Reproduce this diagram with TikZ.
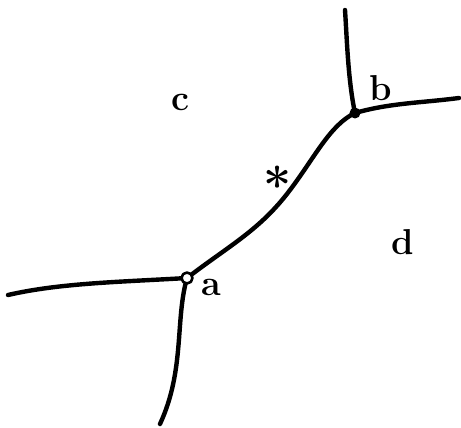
\documentclass[tikz,border=0pt]{standalone}
\usepackage{fontspec}
\begin{document}
\begin{tikzpicture}[x=1pt,y=-1pt,line cap=round,line join=round,
  edge/.style={line width=4.4pt,black},
  lbl/.style={font=\fontsize{36}{36}\selectfont\bfseries}]
\useasboundingbox (0,0) rectangle (461,428);
\coordinate (a) at (187,278);
\coordinate (b) at (355,113);
\coordinate (l) at (8,295);
\coordinate (s) at (160,424);
\coordinate (t) at (345,10);
\coordinate (r) at (459,98);
\draw[edge] (a) .. controls (230,245) and (260,230) .. (290,190)
  .. controls (315,157) and (330,125) .. (b);
\draw[edge] (a) .. controls (120,282) and (60,283) .. (l);
\draw[edge] (a) .. controls (175,320) and (185,370) .. (s);
\draw[edge] (b) .. controls (348,80) and (347,40) .. (t);
\draw[edge] (b) .. controls (390,103) and (420,103) .. (r);
\draw[line width=2.6pt,fill=white] (a) circle (5.5);
\fill (b) circle (5.5);
\node[lbl] (na) at (211,287) {a};
\node[lbl] (nb) at (381,88) {b};
\node[lbl] (nc) at (180,102) {c};
\node[lbl] (nd) at (403,242) {d};
\node[font=\fontsize{50}{50}\selectfont\bfseries,inner sep=0pt,anchor=north] (ns) at (278,166) {*};
\end{tikzpicture}
\end{document}
